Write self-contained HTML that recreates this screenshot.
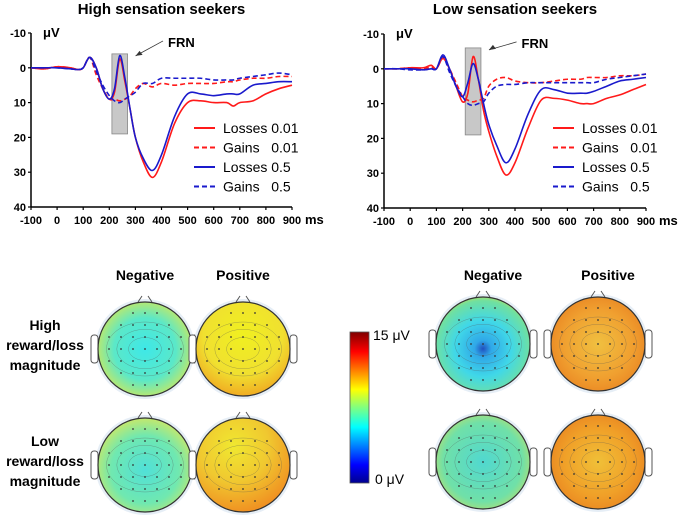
<!DOCTYPE html>
<html><head><meta charset="utf-8"><style>
body{margin:0;background:#fff;width:685px;height:517px;overflow:hidden;font-family:"Liberation Sans",sans-serif}
svg{display:block}
</style></head><body>
<svg id="fig" width="685" height="517" viewBox="0 0 685 517">
<defs>
<linearGradient id="jet" x1="0" y1="1" x2="0" y2="0">
<stop offset="0" stop-color="#00008f"/><stop offset="0.12" stop-color="#0000ff"/><stop offset="0.37" stop-color="#00ffff"/><stop offset="0.5" stop-color="#80ff80"/><stop offset="0.62" stop-color="#ffff00"/><stop offset="0.87" stop-color="#ff0000"/><stop offset="1" stop-color="#800000"/>
</linearGradient>
<radialGradient id="gTLn" cx="0.5" cy="0.5" r="0.6"><stop offset="0" stop-color="#3ee8e8"/><stop offset="0.55" stop-color="#5be8c8"/><stop offset="0.85" stop-color="#b8e870"/><stop offset="1" stop-color="#e8e040"/></radialGradient>
<radialGradient id="gBLn" cx="0.5" cy="0.55" r="0.6"><stop offset="0" stop-color="#50e0d8"/><stop offset="0.6" stop-color="#70e8b0"/><stop offset="0.9" stop-color="#c0e870"/><stop offset="1" stop-color="#e8e040"/></radialGradient>
<radialGradient id="gTLp" cx="0.5" cy="0.35" r="0.7"><stop offset="0" stop-color="#f0f020"/><stop offset="0.6" stop-color="#f0e030"/><stop offset="1" stop-color="#f0a020"/></radialGradient>
<radialGradient id="gBLp" cx="0.4" cy="0.3" r="0.75"><stop offset="0" stop-color="#f0e830"/><stop offset="0.5" stop-color="#f0c830"/><stop offset="1" stop-color="#f08a20"/></radialGradient>
<radialGradient id="gTRn" cx="0.5" cy="0.55" r="0.6"><stop offset="0" stop-color="#2050c0"/><stop offset="0.15" stop-color="#30a8e8"/><stop offset="0.5" stop-color="#40d8e8"/><stop offset="0.85" stop-color="#70e0a0"/><stop offset="1" stop-color="#d8e040"/></radialGradient>
<radialGradient id="gTRp" cx="0.5" cy="0.5" r="0.6"><stop offset="0" stop-color="#f0c040"/><stop offset="0.6" stop-color="#f0a030"/><stop offset="1" stop-color="#e88020"/></radialGradient>
<radialGradient id="gBRn" cx="0.5" cy="0.5" r="0.6"><stop offset="0" stop-color="#50d8d0"/><stop offset="0.7" stop-color="#70e0a8"/><stop offset="1" stop-color="#c8e060"/></radialGradient>
<radialGradient id="gBRp" cx="0.5" cy="0.5" r="0.6"><stop offset="0" stop-color="#f0c038"/><stop offset="0.6" stop-color="#f0a028"/><stop offset="1" stop-color="#e88020"/></radialGradient>
</defs>
<g id="charts"></g>
<g id="topo"></g>
<g>
<rect x="350" y="332" width="19" height="151" fill="url(#jet)" stroke="#555" stroke-width="0.8"/>
<text x="373" y="340" font-size="14" fill="#000">15 μV</text>
<text x="375" y="484" font-size="14" fill="#000">0 μV</text>
</g>
<g font-weight="bold" font-size="14" text-anchor="middle" fill="#000">
<text x="145" y="280">Negative</text>
<text x="243" y="280">Positive</text>
<text x="493" y="280">Negative</text>
<text x="608" y="280">Positive</text>
<g><text x="45" y="330">High</text><text x="45" y="350">reward/loss</text><text x="45" y="370">magnitude</text></g>
<g><text x="45" y="446">Low</text><text x="45" y="466">reward/loss</text><text x="45" y="486">magnitude</text></g>
</g>
</svg>
<script>
const times=[-100,-50,0,50,80,100,125,150,175,200,220,240,260,280,300,330,365,400,450,500,550,600,650,675,700,750,800,850,900];
const hiLoss001=[0,0.3,-0.3,0,0.5,0,-3,0,6,9,7,-2.5,4,12,20,27,31.5,27,16,10,9.5,10,10,11,10,9.5,7.5,6,5];
const hiLoss05=[0,0,0,0.3,0.5,0,-3,0,6,9,6,-3.5,3,12,20,26,29.5,25,14,7.5,7.5,8,7.5,7.5,7.5,5,4.5,4,4];
const hiGain001=[0,0.3,-0.3,0,0.5,0,-3,2,6,9,9,9.5,9,8,6,4.5,5.5,4.5,5,4.5,4.5,4.5,4,4,3.5,3,3,2.5,2.5];
const hiGain05=[0,0,0,0.3,0.5,0,-3,1,5,8,9.5,10,9,8,7,4.5,4.5,3,3,3,3,3.5,3.5,3.5,3,2.5,2,1.5,2];
const loLoss001=[0,0,-0.3,-0.3,-1,0,-3,0,5,9.5,7,-3.5,3,12,18,25,30.5,27,17,9,8.5,9,10,10,10,8.5,7.5,6,4.5];
const loLoss05=[0,0,0,0.3,0,0,-4,0,5,8,4,-1.5,3,10,16,22,27,23,13,6,6,7,7,7,6.5,5,3.5,3,2.5];
const loGain001=[0,0,-0.3,0,-0.5,0,-3,0,4,8,9,9.5,9,8.5,5,3,2.5,3.5,4,4,3.5,3,3,2.5,2.5,2.5,2,2,1.5];
const loGain05=[0,0,0.3,0.3,0,0,-3.5,1,5,8,10,10.5,10,9.5,7,5,4.5,4.5,4,4,4,4,4,4,4,3,2.5,2,1.5];
const xTicks=[-100,0,100,200,300,400,500,600,700,800,900];
const yTicks=[-10,0,10,20,30,40];
const legendLabels=["Losses 0.01","Gains\u00a0\u00a0\u00a00.01","Losses 0.5","Gains\u00a0\u00a0\u00a00.5"];
const NS="http://www.w3.org/2000/svg";
function mk(tag,attrs,parent){const e=document.createElementNS(NS,tag);for(const k in attrs)e.setAttribute(k,attrs[k]);parent.appendChild(e);return e;}
function smooth(pts){
  let d=`M${pts[0][0]},${pts[0][1]}`;
  for(let i=0;i<pts.length-1;i++){
    const p0=pts[Math.max(0,i-1)],p1=pts[i],p2=pts[i+1],p3=pts[Math.min(pts.length-1,i+2)];
    const c1x=p1[0]+(p2[0]-p0[0])/6,c1y=p1[1]+(p2[1]-p0[1])/6;
    const c2x=p2[0]-(p3[0]-p1[0])/6,c2y=p2[1]-(p3[1]-p1[1])/6;
    d+=` C${c1x},${c1y} ${c2x},${c2y} ${p2[0]},${p2[1]}`;
  }
  return d;
}
const charts=document.getElementById('charts');
function chart(cfg){
  const g=mk('g',{},charts);
  
  
  const X=t=>cfg.x0+(t+100)/1000*(cfg.x1-cfg.x0);
  const Y=v=>cfg.y0+(v+10)/50*(cfg.y1-cfg.y0);
  const t=mk('text',{x:(cfg.x0+cfg.x1)/2,y:14,'font-size':15,'font-weight':'bold','text-anchor':'middle'},g);t.textContent=cfg.title;
  
  
  const box=mk('rect',{x:X(cfg.box[0]),y:Y(cfg.box[2]),width:X(cfg.box[1])-X(cfg.box[0]),height:Y(cfg.box[3])-Y(cfg.box[2]),fill:'#c8c8c8',stroke:'#888','stroke-width':0.8},g);
  
  
  const ax=mk('g',{},g);
  
  
  mk('line',{x1:cfg.x0,y1:Y(-10),x2:cfg.x0,y2:Y(40),stroke:'#000','stroke-width':1.5},ax);
  mk('line',{x1:cfg.x0,y1:Y(40),x2:cfg.x1,y2:Y(40),stroke:'#000','stroke-width':1.5},ax);
  yTicks.forEach(v=>{mk('line',{x1:cfg.x0-3,y1:Y(v),x2:cfg.x0,y2:Y(v),stroke:'#000','stroke-width':1.2},ax);
    const l=mk('text',{x:cfg.x0-5,y:Y(v)+4,'font-size':11,'font-weight':'bold','text-anchor':'end'},ax);l.textContent=v;});
  xTicks.forEach(v=>{mk('line',{x1:X(v),y1:Y(40),x2:X(v),y2:Y(40)+3,stroke:'#000','stroke-width':1.2},ax);
    const l=mk('text',{x:X(v),y:Y(40)+17,'font-size':11,'font-weight':'bold','text-anchor':'middle'},ax);l.textContent=v;});
  const ms=mk('text',{x:cfg.x1+13,y:Y(40)+17,'font-size':13,'font-weight':'bold'},ax);ms.textContent='ms';
  const uv=mk('text',{x:cfg.x0+12,y:Y(-10)+4,'font-size':13,'font-weight':'bold'},ax);uv.textContent='μV';
  const fx=X(cfg.frn[0]),fy=Y(cfg.frn[1]);
  const frn=mk('text',{x:fx,y:fy,'font-size':13,'font-weight':'bold'},g);frn.textContent='FRN';
  
  
  const ax2=X(cfg.box[1])+8,ay2=Y(cfg.box[2])+2;
  mk('line',{x1:fx-5,y1:fy-6,x2:ax2,y2:ay2,stroke:'#333','stroke-width':0.8},g);
  mk('path',{d:`M${ax2},${ay2} l7,-1 l-3,-4 z`,fill:'#333'},g);
  const series=[[cfg.d[0],'#ff1a1a',''],[cfg.d[1],'#ff1a1a','5,3'],[cfg.d[2],'#1a1acc',''],[cfg.d[3],'#1a1acc','5,3']];
  const sn=['losses-001','gains-001','losses-05','gains-05'];
  series.forEach((s,i)=>{
    const p=mk('path',{d:smooth(s[0].map((v,j)=>[X(times[j]),Y(v)])),fill:'none',stroke:s[1],'stroke-width':1.6,'stroke-dasharray':s[2],'stroke-linejoin':'round'},g);
    
    
    const ly=cfg.leg[1]+i*19.5;
    const le=mk('g',{},g);
    
    
    mk('line',{x1:cfg.leg[0],y1:ly,x2:cfg.leg[0]+21,y2:ly,stroke:s[1],'stroke-width':2,'stroke-dasharray':s[2]},le);
    const lt=mk('text',{x:cfg.leg[0]+29,y:ly+5,'font-size':14},le);lt.textContent=legendLabels[i];
  });
}
chart({name:'chart-high-sensation',title:'High sensation seekers',x0:31,x1:292,y0:33,y1:207,box:[210,270,-4,19],frn:[425,-6],leg:[194,128],d:[hiLoss001,hiGain001,hiLoss05,hiGain05]});
chart({name:'chart-low-sensation',title:'Low sensation seekers',x0:384,x1:646,y0:34,y1:208,box:[210,270,-6,19],frn:[425,-6],leg:[553,128],d:[loLoss001,loGain001,loLoss05,loGain05]});
const topo=document.getElementById('topo');
const heads=[[145,349,'gTLn','topomap-high-negative-left'],[243,349,'gTLp','topomap-high-positive-left'],[145,465,'gBLn','topomap-low-negative-left'],[243,465,'gBLp','topomap-low-positive-left'],[483,344,'gTRn','topomap-high-negative-right'],[598,344,'gTRp','topomap-high-positive-right'],[483,462,'gBRn','topomap-low-negative-right'],[598,462,'gBRp','topomap-low-positive-right']];
heads.forEach(h=>{
  const g=mk('g',{},topo);
  
  
  const [cx,cy]=h,r=47;
  mk('circle',{cx,cy,r:r+3,fill:'#e6eef6'},g);
  mk('path',{d:`M${cx-7},${cy-r} L${cx-3},${cy-r-6} M${cx+3},${cy-r-6} L${cx+7},${cy-r}`,stroke:'#555','stroke-width':1,fill:'none'},g);
  mk('rect',{x:cx-r-7,y:cy-14,width:7,height:28,rx:3,fill:'#fff',stroke:'#555','stroke-width':1},g);
  mk('rect',{x:cx+r,y:cy-14,width:7,height:28,rx:3,fill:'#fff',stroke:'#555','stroke-width':1},g);
  mk('circle',{cx,cy,r,fill:'url(#'+h[2]+')',stroke:'#333','stroke-width':1.2},g);
  [0.35,0.6,0.82].forEach(k=>mk('ellipse',{cx,cy,rx:r*k,ry:r*k*0.7,fill:'none',stroke:'#555','stroke-width':0.4,opacity:0.6},g));
  for(let row=-3;row<=3;row++){for(let col=-3;col<=3;col++){
    const px=cx+col*12,py=cy+row*12;if(Math.hypot(px-cx,py-cy)>r-6)continue;
    mk('circle',{cx:px,cy:py,r:0.9,fill:'#333'},g);}}
});
</script>
</body></html>
